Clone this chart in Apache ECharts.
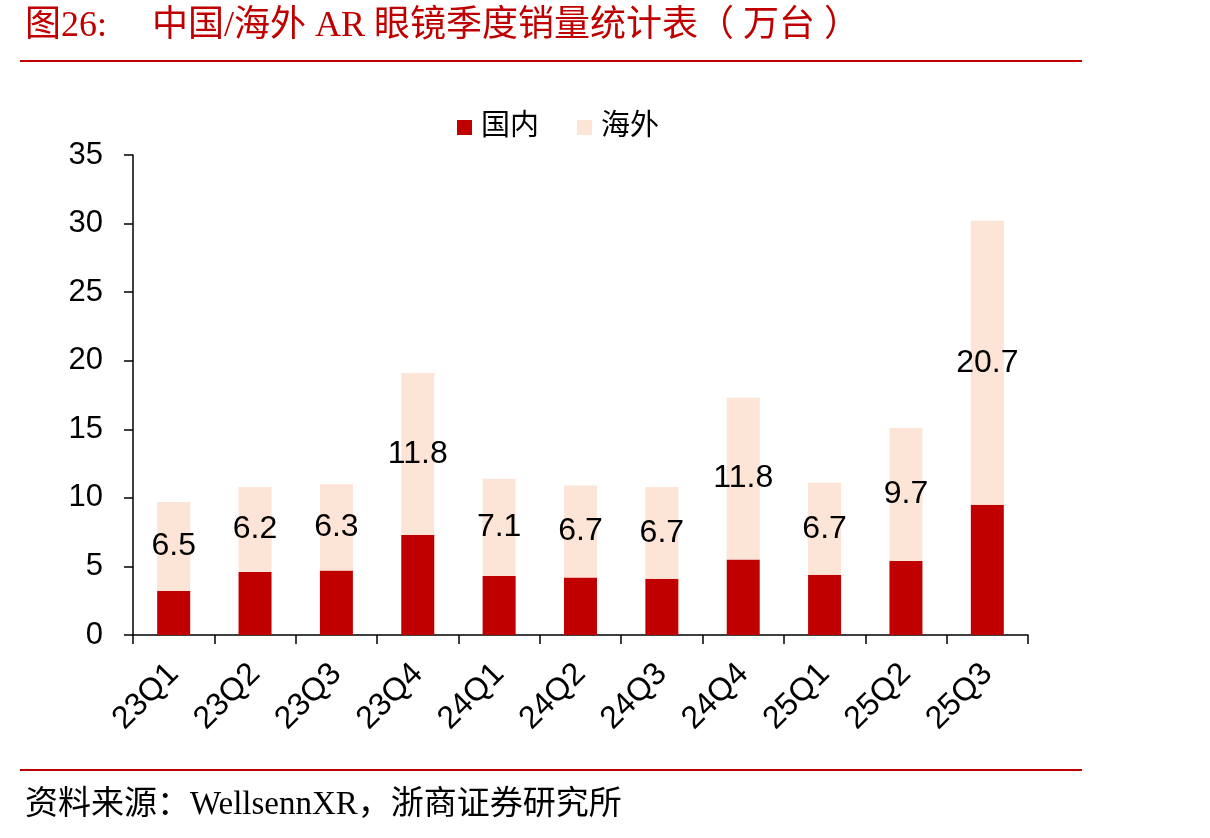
<!DOCTYPE html>
<html>
<head>
<meta charset="utf-8">
<script src="https://cdn.jsdelivr.net/npm/echarts@6/dist/echarts.min.js"></script>
<style>
  html, body { margin: 0; padding: 0; background: #fff; }
  #main { width: 1210px; height: 838px; }
</style>
</head>
<body>
<div id="main"></div>
<script>
// 季度
var quarters = ['23Q1', '23Q2', '23Q3', '23Q4', '24Q1', '24Q2', '24Q3', '24Q4', '25Q1', '25Q2', '25Q3'];
// 国内销量（万台）
var domestic = [3.2, 4.6, 4.7, 7.3, 4.3, 4.2, 4.1, 5.5, 4.4, 5.4, 9.5];
// 海外销量（万台）
var overseas = [6.5, 6.2, 6.3, 11.8, 7.1, 6.7, 6.7, 11.8, 6.7, 9.7, 20.7];
var yTicks = [0, 5, 10, 15, 20, 25, 30, 35];

var serif = '"Liberation Serif", "Noto Sans CJK SC", serif';
var sans = '"Liberation Sans", Arial, sans-serif';

var chart = echarts.init(document.getElementById('main'));
var option = {
    animation: false,
    backgroundColor: '#fff',
    title: [{
        text: '图26:     中国/海外 AR 眼镜季度销量统计表（ 万台 ）',
        left: 20,
        top: 4,
        textStyle: { color: '#C00000', fontFamily: serif, fontSize: 36, fontWeight: 'normal' }
    }, {
        text: '资料来源：WellsennXR，浙商证券研究所',
        left: 20,
        top: 784,
        textStyle: { color: '#000', fontFamily: serif, fontSize: 33, fontWeight: 'normal' }
    }],
    graphic: [
        { type: 'line', shape: { x1: 20, y1: 61, x2: 1082, y2: 61 }, style: { stroke: '#C00000', lineWidth: 2 } },
        { type: 'line', shape: { x1: 20, y1: 770, x2: 1082, y2: 770 }, style: { stroke: '#C00000', lineWidth: 2 } }
    ],
    legend: {
        top: 108,
        left: 452,
        itemWidth: 15,
        itemHeight: 15,
        itemGap: 38,
        textStyle: { fontFamily: serif, fontSize: 29, color: '#000', padding: [0, 0, 0, 4] },
        data: [
            { name: '国内', icon: 'rect' },
            { name: '海外', icon: 'rect' }
        ]
    },
    grid: { left: 133, right: 182, top: 155, bottom: 203 },
    xAxis: {
        type: 'category',
        data: quarters,
        axisLine: { lineStyle: { color: '#000', width: 1.5 } },
        axisTick: { show: true, length: 9, alignWithLabel: false, lineStyle: { color: '#000', width: 1.5 } },
        axisLabel: {
            interval: 0,
            rotate: 45,
            margin: 34,
            color: '#000',
            fontFamily: sans,
            fontSize: 32
        }
    },
    yAxis: {
        type: 'value',
        min: yTicks[0],
        max: yTicks[yTicks.length - 1],
        interval: 5,
        splitLine: { show: false },
        axisLine: { show: true, lineStyle: { color: '#000', width: 1.5 } },
        axisTick: { show: true, length: 9, lineStyle: { color: '#000', width: 1.5 } },
        axisLabel: { color: '#000', fontFamily: sans, fontSize: 31, margin: 30 }
    },
    series: [{
        name: '国内',
        type: 'bar',
        stack: 'total',
        barWidth: 33,
        itemStyle: { color: '#C00000' },
        data: domestic
    }, {
        name: '海外',
        type: 'bar',
        stack: 'total',
        barWidth: 33,
        itemStyle: { color: '#FCE4D6' },
        label: {
            show: true,
            position: 'inside',
            color: '#000',
            fontFamily: sans,
            fontSize: 32,
            formatter: function (p) { return p.value.toFixed(1); }
        },
        data: overseas
    }]
};
chart.setOption(option);
window.onresize = function () { chart.resize(); };
</script>
</body>
</html>
